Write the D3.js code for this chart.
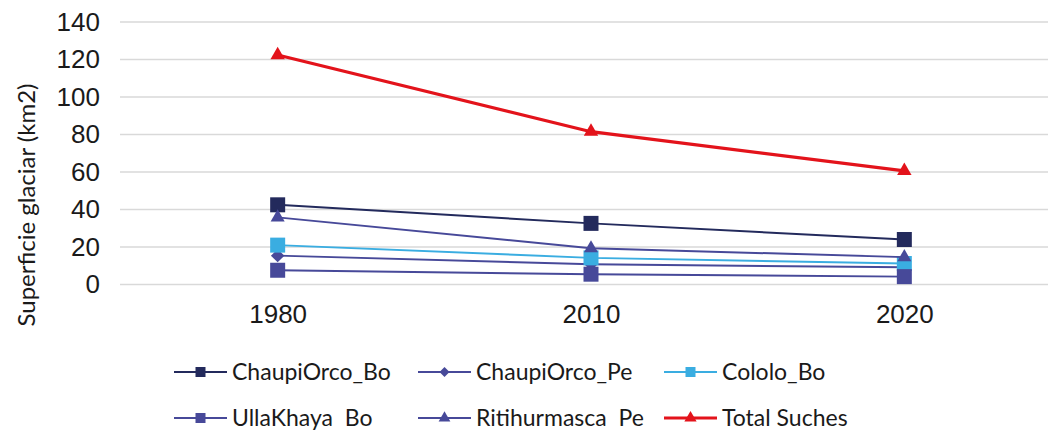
<!DOCTYPE html>
<html>
<head>
<meta charset="utf-8">
<script src="https://cdn.jsdelivr.net/npm/d3@7"></script>
<style>
  body { margin: 0; background: #fff; }
  svg { display: block; }
</style>
</head>
<body>
<svg id="chart" width="1048" height="433"></svg>
<script>
// data
const years = ["1980", "2010", "2020"];
const seriesNames = ["ChaupiOrco_Bo", "ChaupiOrco_Pe", "Cololo_Bo", "UllaKhaya  Bo", "Ritihurmasca  Pe", "Total Suches"];
const chaupiOrcoBo = [42.5, 32.6, 24.0];
const chaupiOrcoPe = [15.4, 10.8, 9.2];
const cololoBo = [21.0, 14.2, 11.2];
const ullaKhayaBo = [7.6, 5.5, 4.2];
const ritihurmascaPe = [35.8, 19.3, 14.6];
const totalSuches = [122.4, 81.5, 60.6];
const yTicks = [0, 20, 40, 60, 80, 100, 120, 140];

// rot: 45 turns the square into the diamond marker
const styles = [
  { color: "#232a5c", symbol: d3.symbolSquare, size: 225, lw: 2, legSize: 100, rot: 0 },
  { color: "#474999", symbol: d3.symbolSquare, size: 90, lw: 2, legSize: 50, rot: 45 },
  { color: "#3aade1", symbol: d3.symbolSquare, size: 225, lw: 2, legSize: 100, rot: 0 },
  { color: "#474999", symbol: d3.symbolSquare, size: 225, lw: 2, legSize: 100, rot: 0 },
  { color: "#474999", symbol: d3.symbolTriangle, size: 85, lw: 2, legSize: 60, rot: 0 },
  { color: "#e3131b", symbol: d3.symbolTriangle, size: 90, lw: 3.2, legSize: 65, rot: 0 }
];
const values = [chaupiOrcoBo, chaupiOrcoPe, cololoBo, ullaKhayaBo, ritihurmascaPe, totalSuches];

const svg = d3.select("#chart");

const x = d3.scalePoint().domain(years).range([121, 1061]).padding(0.5);
const y = d3.scaleLinear().domain([0, 140]).range([284.5, 22]);

// gridlines
svg.append("g")
  .selectAll("line")
  .data(yTicks)
  .join("line")
    .attr("x1", 120)
    .attr("x2", 1061)
    .attr("y1", d => y(d))
    .attr("y2", d => y(d))
    .attr("stroke", "#d9d9d9")
    .attr("stroke-width", 1.5);

// y axis labels
const yAxis = svg.append("g")
  .attr("transform", "translate(100,0)")
  .call(d3.axisLeft(y).tickValues(yTicks).tickSize(0).tickPadding(0));
yAxis.select(".domain").remove();
yAxis.selectAll("text")
  .attr("font-family", "Liberation Sans, Arial, sans-serif")
  .attr("font-size", 26)
  .attr("fill", "#1a1a1a");

// x axis labels
const xAxis = svg.append("g")
  .attr("transform", "translate(0,300)")
  .call(d3.axisBottom(x).tickSize(0).tickPadding(0));
xAxis.select(".domain").remove();
xAxis.selectAll("text")
  .attr("font-family", "Liberation Sans, Arial, sans-serif")
  .attr("font-size", 26)
  .attr("dy", "0.9em")
  .attr("fill", "#1a1a1a");

// y axis title
svg.append("text")
  .attr("transform", "translate(35,205) rotate(-90)")
  .attr("text-anchor", "middle")
  .attr("font-family", "Lato, sans-serif")
  .attr("font-size", 24)
  .attr("fill", "#1a1a1a")
  .text("Superficie glaciar (km2)");

// series
const line = d3.line().x((d, i) => x(years[i])).y(d => y(d));
values.forEach((vals, k) => {
  const st = styles[k];
  const g = svg.append("g");
  g.append("path")
    .attr("d", line(vals))
    .attr("fill", "none")
    .attr("stroke", st.color)
    .attr("stroke-width", st.lw);
  g.selectAll("path.m")
    .data(vals)
    .join("path")
      .attr("class", "m")
      .attr("transform", (d, i) => `translate(${x(years[i])},${y(d)}) rotate(${st.rot})`)
      .attr("d", d3.symbol().type(st.symbol).size(st.size))
      .attr("fill", st.color);
});

// legend
const legCols = [174, 418, 664];
const legRows = [372, 418];
const legend = svg.append("g");
seriesNames.forEach((name, k) => {
  const st = styles[k];
  const lx = legCols[k % 3];
  const ly = legRows[Math.floor(k / 3)];
  const item = legend.append("g").attr("transform", `translate(${lx},${ly})`);
  item.append("line")
    .attr("x1", 0).attr("x2", 53)
    .attr("stroke", st.color)
    .attr("stroke-width", st.lw);
  item.append("path")
    .attr("transform", `translate(26.5,0) rotate(${st.rot})`)
    .attr("d", d3.symbol().type(st.symbol).size(st.legSize))
    .attr("fill", st.color);
  item.append("text")
    .attr("x", 58)
    .attr("dy", "0.35em")
    .attr("font-family", "Lato, sans-serif")
    .attr("font-size", 23)
    .attr("fill", "#1a1a1a")
    .attr("xml:space", "preserve")
    .style("white-space", "pre")
    .text(name);
});
</script>
</body>
</html>
